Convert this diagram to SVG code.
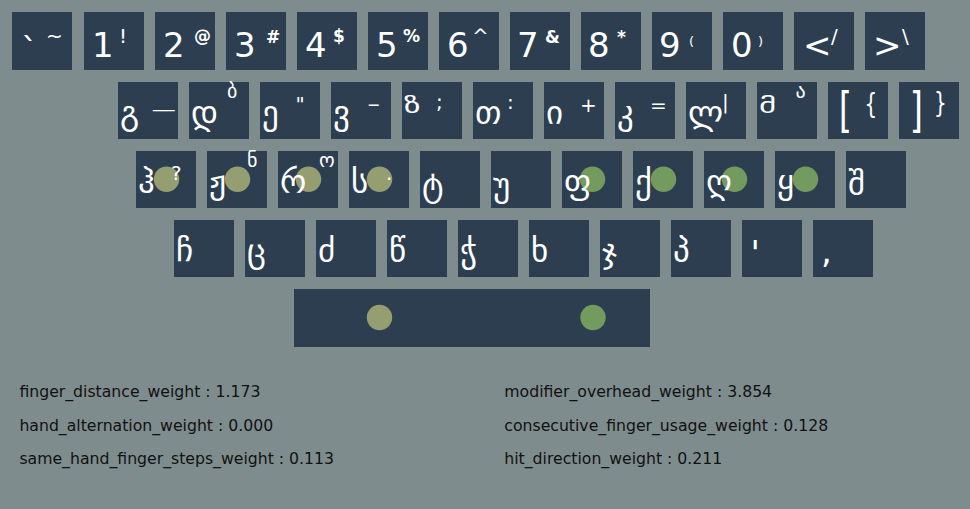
<svg xmlns="http://www.w3.org/2000/svg" width="970" height="509" viewBox="0 0 970 509">
<style>
.k{fill:#2c3e50}
.t{fill:#ffffff;font-family:"DejaVu Sans",sans-serif}
.g{font-size:33px}
.l{font-size:34px}
.s{font-size:20px}
.p{font-size:13px}
.b{font-size:17px;font-weight:bold}
.cl{fill:#959e71}
.cr{fill:#739a5f}
.w{fill:#111111;font-family:"DejaVu Sans",sans-serif;font-size:15.7px}
</style>
<rect x="0" y="0" width="970" height="509" fill="#7f8c8d"/>
<g id="connectors"/>
<!-- Row 1 -->
<g id="key-grave"><rect class="k" x="12" y="12" width="60" height="58"/><text class="t l" x="21" y="62">`</text><text class="t s" x="46" y="43">~</text></g>
<g id="key-1"><rect class="k" x="84" y="12" width="60" height="58"/><text class="t l" x="92" y="57">1</text><text class="t s" x="119" y="43">!</text></g>
<g id="key-2"><rect class="k" x="155" y="12" width="60" height="58"/><text class="t l" x="163" y="57">2</text><text class="t b" x="194" y="42">@</text></g>
<g id="key-3"><rect class="k" x="226" y="12" width="60" height="58"/><text class="t l" x="234" y="57">3</text><text class="t b" x="266" y="43">#</text></g>
<g id="key-4"><rect class="k" x="297" y="12" width="60" height="58"/><text class="t l" x="305" y="57">4</text><text class="t b" x="333" y="42">$</text></g>
<g id="key-5"><rect class="k" x="368" y="12" width="60" height="58"/><text class="t l" x="376" y="57">5</text><text class="t b" x="403" y="42">%</text></g>
<g id="key-6"><rect class="k" x="439" y="12" width="60" height="58"/><text class="t l" x="447" y="57">6</text><text class="t s" x="472" y="43">^</text></g>
<g id="key-7"><rect class="k" x="510" y="12" width="60" height="58"/><text class="t l" x="517" y="57">7</text><text class="t b" x="545" y="43">&amp;</text></g>
<g id="key-8"><rect class="k" x="581" y="12" width="60" height="58"/><text class="t l" x="588" y="57">8</text><text class="t b" x="617" y="43">*</text></g>
<g id="key-9"><rect class="k" x="652" y="12" width="60" height="58"/><text class="t l" x="659" y="57">9</text><text class="t p" x="689" y="46">(</text></g>
<g id="key-0"><rect class="k" x="723" y="12" width="60" height="58"/><text class="t l" x="731" y="57">0</text><text class="t p" x="758" y="46">)</text></g>
<g id="key-lt"><rect class="k" x="794" y="12" width="60" height="58"/><text class="t l" x="803" y="57">&lt;</text><text class="t s" x="831" y="43">/</text></g>
<g id="key-gt"><rect class="k" x="865" y="12" width="60" height="58"/><text class="t l" x="873" y="57">&gt;</text><text class="t s" x="902" y="43">\</text></g>
<!-- Row 2 -->
<g id="key-gani"><rect class="k" x="118" y="82" width="60" height="57"/><text class="t g" x="120" y="123.5">გ</text><text class="t s" x="153.3" y="106.5" textLength="21" lengthAdjust="spacingAndGlyphs">_</text></g>
<g id="key-doni"><rect class="k" x="189" y="82" width="60" height="57"/><text class="t g" x="191" y="123.5">დ</text><text class="t s" x="227" y="98">ბ</text></g>
<g id="key-eni"><rect class="k" x="260" y="82" width="60" height="57"/><text class="t g" x="262" y="123.5">ე</text><text class="t s" x="295.5" y="111">"</text></g>
<g id="key-vini"><rect class="k" x="331" y="82" width="60" height="57"/><text class="t g" x="333" y="123.5">ვ</text><text class="t s" x="367" y="111" textLength="13.5" lengthAdjust="spacingAndGlyphs">-</text></g>
<g id="key-zeni"><rect class="k" x="402" y="82" width="60" height="57"/><text class="t g" transform="matrix(1 0 0 0.66 404 113)">ზ</text><text class="t s" x="436" y="109">;</text></g>
<g id="key-tani"><rect class="k" x="473" y="82" width="60" height="57"/><text class="t g" x="475" y="123.5">თ</text><text class="t s" x="507" y="109">:</text></g>
<g id="key-ini"><rect class="k" x="544" y="82" width="60" height="57"/><text class="t g" x="546" y="123.5">ი</text><text class="t s" x="580" y="112">+</text></g>
<g id="key-kani"><rect class="k" x="615" y="82" width="60" height="57"/><text class="t g" x="617" y="123.5">კ</text><text class="t s" x="650" y="111.7">=</text></g>
<g id="key-lasi"><rect class="k" x="686" y="82" width="60" height="57"/><text class="t g" x="688" y="123.5">ლ</text><text class="t s" x="722" y="109.3">|</text></g>
<g id="key-mani"><rect class="k" x="757" y="82" width="60" height="57"/><text class="t g" transform="matrix(1 0 0 0.66 759 113)">მ</text><text class="t s" x="795.5" y="98">ა</text></g>
<g id="key-lbracket"><rect class="k" x="828" y="82" width="60" height="57"/><text class="t l" transform="matrix(1 0 0 1.43 838.8 126.9)">[</text><text class="t s" transform="matrix(1 0 0 1.45 864.5 114.2)">{</text></g>
<g id="key-rbracket"><rect class="k" x="899" y="82" width="60" height="57"/><text class="t l" transform="matrix(1 0 0 1.43 909.7 126.9)">]</text><text class="t s" transform="matrix(1 0 0 1.45 934 112.9)">}</text></g>
<!-- Row 3 -->
<g id="key-hae"><rect class="k" x="136" y="151" width="60" height="57"/><circle class="cl" cx="166.5" cy="179.3" r="12.7"/><text class="t g" x="138" y="192.5">ჰ</text><text class="t s" x="171" y="180">?</text></g>
<g id="key-zhani"><rect class="k" x="207" y="151" width="60" height="57"/><circle class="cl" cx="237.5" cy="179.3" r="12.7"/><text class="t g" x="209" y="192.5">ჟ</text><text class="t s" x="247" y="167">ნ</text></g>
<g id="key-rae"><rect class="k" x="278" y="151" width="60" height="57"/><circle class="cl" cx="308.5" cy="179.3" r="12.7"/><text class="t g" x="280" y="192.5">რ</text><text class="t s" x="319" y="167">ო</text></g>
<g id="key-sani"><rect class="k" x="349" y="151" width="60" height="57"/><circle class="cl" cx="379.5" cy="179.3" r="12.7"/><text class="t g" x="351" y="192.5">ს</text><text class="t s" x="386" y="180">.</text></g>
<g id="key-tari"><rect class="k" x="420" y="151" width="60" height="57"/><text class="t g" x="422" y="195.5">ტ</text></g>
<g id="key-uni"><rect class="k" x="491" y="151" width="60" height="57"/><text class="t g" x="493" y="195.5">უ</text></g>
<g id="key-phari"><rect class="k" x="562" y="151" width="60" height="57"/><circle class="cr" cx="592.5" cy="179.3" r="12.7"/><text class="t g" x="564" y="192.5">ფ</text></g>
<g id="key-khani"><rect class="k" x="633" y="151" width="60" height="57"/><circle class="cr" cx="663.5" cy="179.3" r="12.7"/><text class="t g" x="635" y="192.5">ქ</text></g>
<g id="key-ghani"><rect class="k" x="704" y="151" width="60" height="57"/><circle class="cr" cx="734.5" cy="179.3" r="12.7"/><text class="t g" x="706" y="192.5">ღ</text></g>
<g id="key-qari"><rect class="k" x="775" y="151" width="60" height="57"/><circle class="cr" cx="805.5" cy="179.3" r="12.7"/><text class="t g" x="777" y="192.5">ყ</text></g>
<g id="key-shini"><rect class="k" x="846" y="151" width="60" height="57"/><text class="t g" x="848" y="194.5">შ</text></g>
<!-- Row 4 -->
<g id="key-chini"><rect class="k" x="174" y="220" width="60" height="57"/><text class="t g" x="176" y="261.5">ჩ</text></g>
<g id="key-tsani"><rect class="k" x="245" y="220" width="60" height="57"/><text class="t g" x="247" y="261.5">ც</text></g>
<g id="key-dzili"><rect class="k" x="316" y="220" width="60" height="57"/><text class="t g" x="318" y="261.5">ძ</text></g>
<g id="key-tsili"><rect class="k" x="387" y="220" width="60" height="57"/><text class="t g" x="389" y="261.5">წ</text></g>
<g id="key-chari"><rect class="k" x="458" y="220" width="60" height="57"/><text class="t g" x="460" y="261.5">ჭ</text></g>
<g id="key-khari"><rect class="k" x="529" y="220" width="60" height="57"/><text class="t g" x="531" y="261.5">ხ</text></g>
<g id="key-jani"><rect class="k" x="600" y="220" width="60" height="57"/><text class="t g" x="602" y="261.5">ჯ</text></g>
<g id="key-pari"><rect class="k" x="671" y="220" width="60" height="57"/><text class="t g" x="673" y="261.5">პ</text></g>
<g id="key-quote"><rect class="k" x="742" y="220" width="60" height="57"/><text class="t l" x="750.6" y="264.8">'</text></g>
<g id="key-comma"><rect class="k" x="813" y="220" width="60" height="57"/><text class="t l" x="821" y="263">,</text></g>
<!-- Space -->
<g id="key-space"><rect class="k" x="294" y="289" width="356" height="58"/><circle class="cl" cx="379.5" cy="317.5" r="12.7"/><circle class="cr" cx="593" cy="317.5" r="12.7"/></g>
<!-- Weights -->
<g id="weights">
<text class="w" x="19.4" y="397.3">finger_distance_weight : 1.173</text>
<text class="w" x="19.4" y="430.7">hand_alternation_weight : 0.000</text>
<text class="w" x="19.4" y="464">same_hand_finger_steps_weight : 0.113</text>
<text class="w" x="504.3" y="397.3">modifier_overhead_weight : 3.854</text>
<text class="w" x="504.3" y="430.7">consecutive_finger_usage_weight : 0.128</text>
<text class="w" x="504.3" y="464">hit_direction_weight : 0.211</text>
</g>
</svg>
